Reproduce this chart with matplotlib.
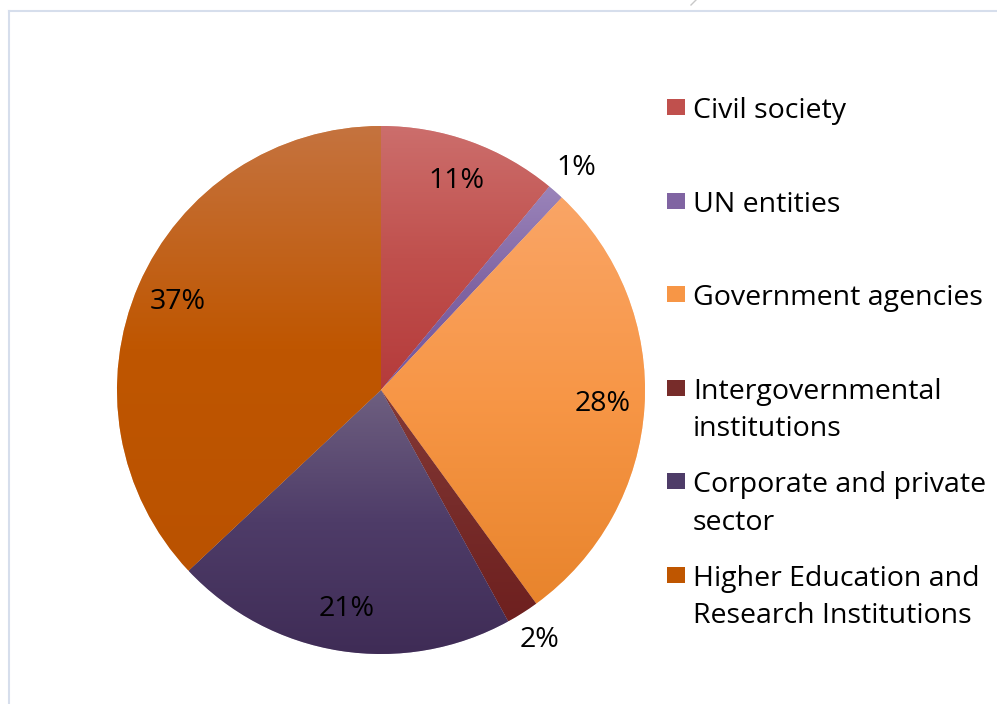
import numpy as np
import matplotlib.pyplot as plt
from matplotlib.lines import Line2D
from matplotlib.patches import Rectangle
from matplotlib.colors import to_rgb

# Datos
categorias = ['Civil society', 'UN entities', 'Government agencies',
              'Intergovernmental\ninstitutions', 'Corporate and private\nsector',
              'Higher Education and\nResearch Institutions']
porcentajes = [11, 1, 28, 2, 21, 37]

# colores: (arriba, medio, abajo) para el degradado de cada sector
colores = [
    ('#CC6E6C', '#C0504D', '#B53B3B'),
    ('#9A84BA', '#8064A2', '#7558A0'),
    ('#FAA566', '#F79646', '#E8842C'),
    ('#853A37', '#772C2A', '#6E201F'),
    ('#6E5F80', '#4E3C68', '#3F2C56'),
    ('#C5733F', '#BF5600', '#BA5200'),
]

plt.rcParams['font.family'] = ['Open Sans', 'DejaVu Sans']
W, H = 997, 704
fig = plt.figure(figsize=(W / 100, H / 100), dpi=100)

# Pie: centro (381, 390) px, radio 264 px
cx, cy, r = 381, 390, 264
ax = fig.add_axes([(cx - r) / W, (H - cy - r) / H, 2 * r / W, 2 * r / H])
ax.set_xlim(-1, 1)
ax.set_ylim(-1, 1)
ax.set_aspect('equal')
ax.axis('off')

wedges, _ = ax.pie(porcentajes, startangle=90, counterclock=False, radius=1,
                   colors=[c[1] for c in colores],
                   wedgeprops=dict(edgecolor=(1, 1, 1, 0.6), linewidth=0.6))

for w, (c_top, c_mid, c_bot), v in zip(wedges, colores, porcentajes):
    t = np.radians(np.linspace(w.theta1, w.theta2, 200))
    xs = np.concatenate([[0], np.cos(t)])
    ys = np.concatenate([[0], np.sin(t)])
    stops = np.array([to_rgb(c_top), to_rgb(c_mid), to_rgb(c_bot)])
    s = np.linspace(0, 1, 256)
    grad = np.stack([np.interp(s, [0, 0.5, 1], stops[:, k]) for k in range(3)], axis=-1)
    im = ax.imshow(grad[:, None, :], extent=[xs.min(), xs.max(), ys.min(), ys.max()],
                   origin='upper', aspect='auto', zorder=w.get_zorder() + 0.1,
                   interpolation='bilinear')
    im.set_clip_path(w)
    # etiqueta
    ang = np.radians((w.theta1 + w.theta2) / 2)
    d = 0.84 if v > 5 else 1.12
    ax.text(d * np.cos(ang), d * np.sin(ang), f'{v}%', ha='center', va='center',
            fontsize=20.5, color='black', zorder=5)

ax.set_xlim(-1, 1)
ax.set_ylim(-1, 1)

# Leyenda manual
y0, paso = 107, 93.6
for i, (nombre, c) in enumerate(zip(categorias, colores)):
    y = y0 + i * paso
    fig.add_artist(Rectangle((667 / W, 1 - (y + 8) / H), 18 / W, 16 / H,
                             transform=fig.transFigure, facecolor=c[1], edgecolor='none'))
    fig.text(693 / W, 1 - (y - 10) / H, nombre, ha='left', va='top', fontsize=20.5,
             linespacing=1.45)

# Borde del área del gráfico
borde = '#D6DEEC'
fig.add_artist(Line2D([8.5 / W, 8.5 / W], [0, 1 - 10.5 / H], transform=fig.transFigure,
                      color=borde, lw=1.5))
fig.add_artist(Line2D([8.5 / W, 1], [1 - 10.5 / H, 1 - 10.5 / H], transform=fig.transFigure,
                      color=borde, lw=1.5))
fig.add_artist(Line2D([691 / W, 696 / W], [1 - 5 / H, 1], transform=fig.transFigure,
                      color='#C8C8C8', lw=1))

fig.savefig('out.png', dpi=100, facecolor='white')
